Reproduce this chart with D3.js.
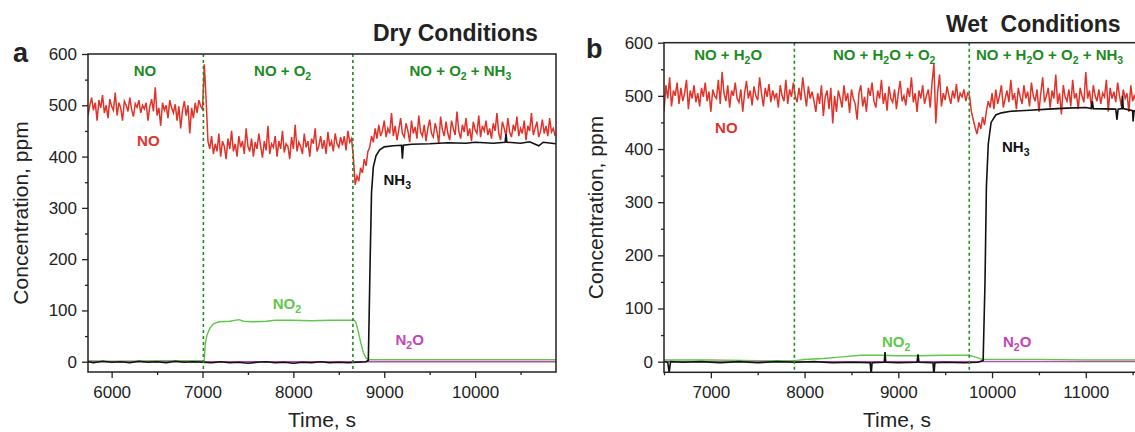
<!DOCTYPE html>
<html>
<head>
<meta charset="utf-8">
<script src="https://cdn.jsdelivr.net/npm/d3@7"></script>
<style>
  body { margin: 0; background: #fff; }
  text { font-family: "Liberation Sans", Arial, Helvetica, sans-serif; }
</style>
</head>
<body>
<script>
// ---------- data: dry conditions (panel a) ----------
var step = 20; // sampling interval of the NO traces, s
var noDryStarts = [5740, 7020, 8660];
var noDry1 = [480,500,515,490,505,470,510,495,520,485,
  500,475,512,498,490,525,480,505,495,470,
  508,500,488,515,492,478,503,496,510,485,
  500,493,505,470,498,512,488,535,480,495,
  460,505,490,500,475,510,495,485,502,470,
  498,455,490,508,480,500,445,495,475,505,
  485,510,498,492];
var noDry2 = [580,510,430,415,440,405,425,410,445,400,
  430,420,395,435,415,450,410,425,400,440,
  418,430,405,455,420,410,435,400,428,415,
  445,420,398,430,412,460,405,425,418,440,
  400,430,415,450,408,425,420,395,438,415,
  462,410,428,420,405,445,418,430,400,435,
  425,455,410,420,440,415,432,405,448,420,
  430,410,445,425,418,438,422,440,412,450,
  428,435];
var noDry3 = [400,345,362,352,378,368,395,382,410,418,
  440,428,455,435,462,440,450,470,438,455,
  445,485,440,460,432,452,475,445,438,465,
  450,428,470,445,458,435,480,448,440,462,
  430,455,472,445,438,465,450,425,478,452,
  440,468,445,432,470,455,442,488,450,435,
  462,448,475,440,455,430,468,452,445,480,
  438,460,450,470,442,455,435,465,450,485,
  445,432,468,455,440,475,448,438,462,450,
  478,440,455,445,470,432,460,450,485,442,
  455,468,438,450,472,445,460,440,475,448,
  455,440];
var nh3Dry = [[5740,0],[5800,-2],[5900,1],[6000,-1],[6100,0],[6200,-2],[6300,1],[6400,-1],
  [6500,0],[6600,-2],[6700,1],[6800,-1],[6900,0],[7000,-1],[7100,-2],[7200,0],[7300,-2],
  [7400,-1],[7500,-3],[7600,-1],[7700,0],[7800,-2],[7900,-1],[8000,-3],[8100,-1],[8200,-2],
  [8300,0],[8400,-2],[8500,-1],[8600,-2],[8700,-1],[8800,0],[8825,3],[8845,200],[8860,330],
  [8880,380],[8910,402],[8950,413],[9000,419],[9100,421],[9190,422],[9200,396],[9210,422],
  [9300,424],[9500,425],[9700,427],[9900,426],[10000,428],[10200,426],[10330,428],[10340,444],
  [10350,428],[10500,426],[10600,429],[10700,421],[10750,428],[10890,425]];
var no2Dry = [[5740,2],[6000,1],[6500,2],[7000,2],[7020,3],[7030,35],[7050,52],[7080,65],
  [7120,74],[7180,78],[7300,79],[7400,82],[7450,79],[7550,78],[7700,79],[7800,81],[8000,81],
  [8200,80],[8400,81],[8600,81],[8670,81],[8690,76],[8710,62],[8740,38],[8770,18],[8800,7],
  [8830,4],[9000,4],[9500,4],[10000,4],[10500,4],[10890,4]];
var n2oDry = [[5740,0],[7000,0],[8800,0],[10890,0]];

// ---------- data: wet conditions (panel b) ----------
var noWetStarts = [6500, 9760];
var noWet1 = [470,520,495,535,480,510,500,525,485,515,
  490,505,530,475,510,495,520,488,505,480,
  515,498,525,490,508,470,512,500,495,530,
  485,545,505,490,520,478,510,500,525,495,
  488,512,470,505,528,495,510,482,518,500,
  492,535,505,480,515,498,522,488,510,495,
  505,478,520,500,490,530,485,512,498,525,
  500,488,515,492,535,505,480,518,495,508,
  490,470,505,485,520,462,498,510,475,515,
  448,500,470,510,495,478,520,490,505,468,
  512,495,485,455,505,520,480,498,470,515,
  500,525,490,478,510,495,530,485,505,472,
  518,495,488,512,475,505,528,490,500,482,
  515,498,535,488,505,470,510,495,520,485,
  500,512,478,525,560,448,508,540,480,505,
  492,518,500,485,510,495,522,488,505,498,
  512,490,505];
var noWet2 = [500,470,455,440,428,450,438,460,445,472,
  490,478,505,475,512,485,500,520,478,495,
  510,488,530,492,505,475,515,498,485,520,
  495,508,480,525,500,490,512,470,505,535,
  488,500,515,478,510,495,540,485,505,465,
  520,498,490,512,480,530,495,505,475,515,
  500,488,545,495,510,478,520,500,490,512,
  485,505,498,530,470,515,495,508,488,525,
  500,480,512,495,505,470,520,490,502,485,
  510,495,480];
var nh3Wet = [[6500,0],[6540,-1],[6555,-20],[6570,0],[6700,-1],[6900,0],[7100,-2],[7300,0],
  [7500,-2],[7700,0],[7900,-1],[8100,0],[8300,-2],[8500,-1],[8700,-2],[8710,-25],[8720,-2],
  [8850,-1],[8858,18],[8866,-1],[9000,-2],[9200,-1],[9210,14],[9220,-1],[9370,-2],[9380,-25],
  [9390,-2],[9500,-1],[9700,-2],[9850,-1],[9905,2],[9925,150],[9940,330],[9960,410],
  [9990,450],[10040,464],[10100,468],[10200,471],[10400,473],[10600,475],[10800,477],
  [11000,478],[11060,476],[11070,490],[11080,476],[11320,475],[11333,455],[11345,475],
  [11385,476],[11392,500],[11400,476],[11500,472],[11505,452],[11515,472],[11600,472]];
var no2Wet = [[6500,3],[7000,3],[7500,2],[7900,2],[8000,4],[8200,6],[8400,9],[8600,12],
  [8800,12],[9000,11],[9200,11],[9500,12],[9750,12],[9800,10],[9850,7],[9900,4],[10000,4],
  [10500,4],[11000,3],[11600,3]];
var n2oWet = [[6500,0],[8000,0],[9900,0],[11600,0]];

// ---------- ticks and labels ----------
var yMajor = [0,100,200,300,400,500,600];
var yMinor = [50,150,250,350,450,550];
var dryXMajor = [6000,7000,8000,9000,10000];
var dryXMinor = [6500,7500,8500,9500,10500];
var wetXMajor = [7000,8000,9000,10000,11000];
var wetXMinor = [6500,7500,8500,9500,10500,11500];
var dryPhases = ["NO", "NO + O_2", "NO + O_2 + NH_3"];
var wetPhases = ["NO + H_2O", "NO + H_2O + O_2", "NO + H_2O + O_2 + NH_3"];
var dryGasSwitch = [7010, 8655];
var wetGasSwitch = [7891, 9757];

var red = "#e0332a", green = "#1d8a22", light = "#5ec84a", mag = "#c244b6";

var svg = d3.select("body").append("svg")
  .attr("width", 1135).attr("height", 432);

function steps(starts, segs) {
  var out = [];
  segs.forEach(function(s, k) {
    s.forEach(function(v, i) { out.push([starts[k] + i * step, v]); });
  });
  return out;
}

// writes "NO + O_2" with real subscripts
function label(g, x, y, str, color, anchor, size, bold) {
  var t = g.append("text").attr("x", x).attr("y", y)
    .attr("fill", color).attr("text-anchor", anchor || "start")
    .attr("font-size", size).attr("font-weight", bold ? "bold" : "normal");
  var down = false;
  str.split(/(_\d)/).forEach(function(p) {
    if (!p) return;
    if (p[0] === "_") {
      t.append("tspan").attr("dy", 4).attr("font-size", size * 0.7).text(p.slice(1));
      down = true;
    } else {
      var s = t.append("tspan").text(p);
      if (down) { s.attr("dy", -4); down = false; }
    }
  });
  return t;
}

function panel(c) {
  var x = d3.scaleLinear().domain(c.xDomain).range([c.left, c.right]);
  var y = d3.scaleLinear().domain([-20, 600]).range([c.bottom, c.top]);
  var g = svg.append("g");

  g.append("clipPath").attr("id", "clip" + c.id).append("rect")
    .attr("x", c.left).attr("y", c.top)
    .attr("width", c.right - c.left).attr("height", c.bottom - c.top);

  var line = d3.line().x(function(d) { return x(d[0]); }).y(function(d) { return y(d[1]); });
  var plot = g.append("g").attr("clip-path", "url(#clip" + c.id + ")");

  plot.append("path").datum(c.no).attr("d", line)
    .attr("fill", "none").attr("stroke", red).attr("stroke-width", 1.5);
  plot.append("path").datum(c.no2).attr("d", line)
    .attr("fill", "none").attr("stroke", light).attr("stroke-width", 1.4);
  plot.append("path").datum(c.n2o).attr("d", line)
    .attr("fill", "none").attr("stroke", mag).attr("stroke-width", 1.4);
  plot.append("path").datum(c.nh3).attr("d", line)
    .attr("fill", "none").attr("stroke", "#111").attr("stroke-width", 1.6);

  plot.selectAll("line.sw").data(c.switches).enter().append("line")
    .attr("x1", function(d) { return x(d); }).attr("x2", function(d) { return x(d); })
    .attr("y1", c.top).attr("y2", c.bottom)
    .attr("stroke", green).attr("stroke-width", 1.6).attr("stroke-dasharray", "3,3");

  // axes
  g.append("g").attr("transform", "translate(0," + c.bottom + ")")
    .call(d3.axisBottom(x).tickValues(c.xMajor).tickSize(6).tickPadding(8).tickFormat(d3.format("d")));
  g.append("g").attr("transform", "translate(0," + c.bottom + ")")
    .call(d3.axisBottom(x).tickValues(c.xMinor).tickSize(3).tickFormat(""));
  g.append("g").attr("transform", "translate(" + c.left + ",0)")
    .call(d3.axisLeft(y).tickValues(yMajor).tickSize(6).tickPadding(5));
  g.append("g").attr("transform", "translate(" + c.left + ",0)")
    .call(d3.axisLeft(y).tickValues(yMinor).tickSize(3).tickFormat(""));
  g.selectAll(".domain").remove();
  g.selectAll(".tick line").attr("stroke", "#222").attr("stroke-width", 1.3);
  g.selectAll(".tick text").attr("font-size", 17).attr("fill", "#222")
    .attr("font-family", "Liberation Sans, Arial, sans-serif");

  g.append("rect").attr("x", c.left).attr("y", c.top)
    .attr("width", c.right - c.left).attr("height", c.bottom - c.top)
    .attr("fill", "none").attr("stroke", "#222").attr("stroke-width", 1.5);

  // titles
  g.append("text").attr("x", c.xTitleX).attr("y", 427).attr("text-anchor", "middle")
    .attr("font-size", 21).attr("fill", "#222").text("Time, s");
  g.append("text").attr("transform", "translate(" + c.yTitleX + "," + ((c.top + c.bottom) / 2) + ") rotate(-90)")
    .attr("text-anchor", "middle").attr("font-size", 21).attr("fill", "#222")
    .text("Concentration, ppm");
  g.append("text").attr("x", c.letter[0]).attr("y", c.letter[1])
    .attr("font-size", 27).attr("font-weight", "bold").attr("fill", "#222").text(c.id);
  g.append("text").attr("x", c.title[0]).attr("y", c.title[1])
    .attr("font-size", 23).attr("font-weight", "bold").attr("fill", "#222")
    .style("white-space", "pre").text(c.titleText);

  // phase labels and species labels (data coordinates)
  c.phaseAt.forEach(function(p, i) {
    label(g, x(p[0]), y(p[1]), c.phases[i], green, p[2], 15, true);
  });
  c.species.forEach(function(s) {
    label(g, x(s[1]), y(s[2]), s[0], s[3], "start", 15, true);
  });
}

panel({
  id: "a", xDomain: [5740, 10890], left: 88, right: 556, top: 54, bottom: 372,
  no: steps(noDryStarts, [noDry1, noDry2, noDry3]), nh3: nh3Dry, no2: no2Dry, n2o: n2oDry,
  switches: dryGasSwitch, xMajor: dryXMajor, xMinor: dryXMinor,
  xTitleX: 322, yTitleX: 28, letter: [13, 62], title: [373, 41], titleText: "Dry Conditions",
  phases: dryPhases,
  phaseAt: [[6366, 557, "middle"], [7882, 557, "middle"], [9838, 557, "middle"]],
  species: [["NO", 6280, 420, red], ["NH_3", 8992, 345, "#111"],
            ["NO_2", 7772, 102, light], ["N_2O", 9124, 32, mag]]
});

panel({
  id: "b", xDomain: [6500, 11600], left: 664, right: 1142, top: 42.7, bottom: 372.3,
  no: steps(noWetStarts, [noWet1, noWet2]), nh3: nh3Wet, no2: no2Wet, n2o: n2oWet,
  switches: wetGasSwitch, xMajor: wetXMajor, xMinor: wetXMinor,
  xTitleX: 897, yTitleX: 603, letter: [586, 58], title: [946, 32], titleText: "Wet  Conditions",
  phases: wetPhases,
  phaseAt: [[7184, 567, "middle"], [8849, 567, "middle"], [9829, 567, "start"]],
  species: [["NO", 7045, 430, red], ["NH_3", 10106, 394, "#111"],
            ["NO_2", 8826, 28, light], ["N_2O", 10117, 28, mag]]
});
</script>
</body>
</html>
